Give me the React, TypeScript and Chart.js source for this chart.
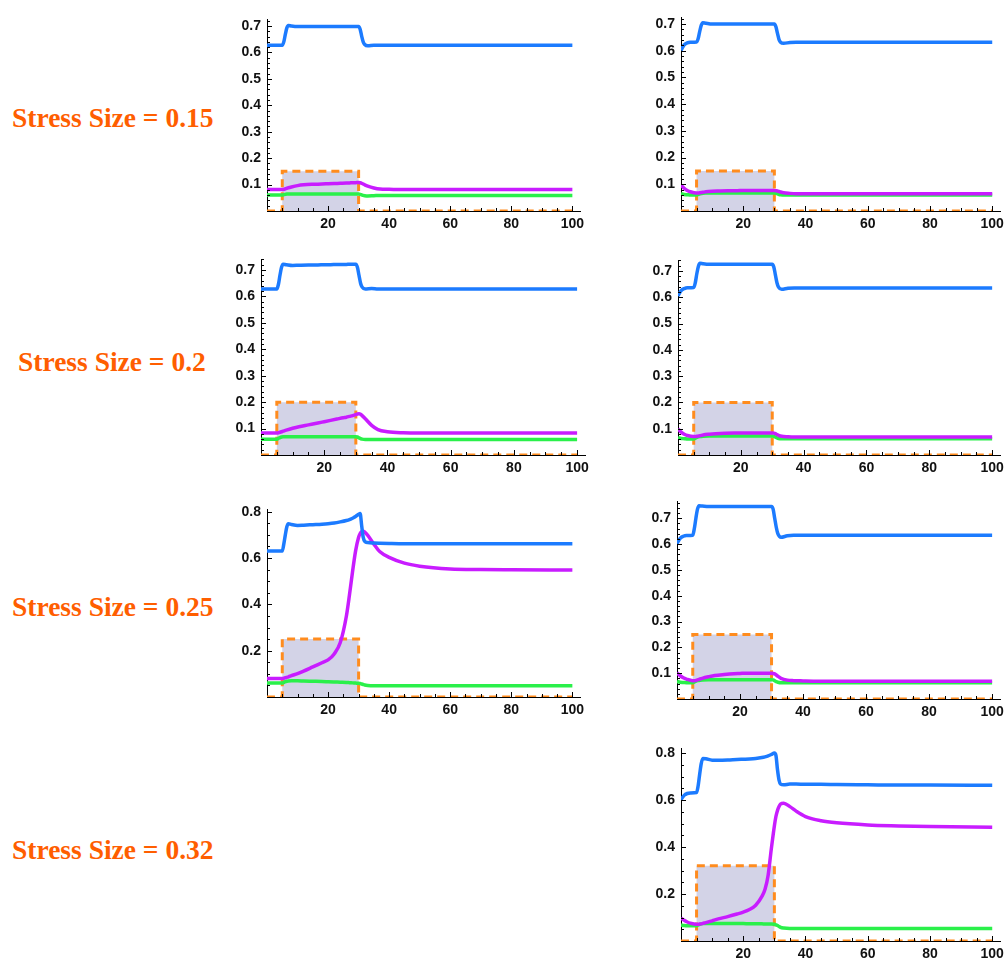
import React, { useEffect, useRef } from "react";
import { Chart, registerables } from "chart.js";

Chart.register(...registerables);

// ---------- DATA ----------
const T = [0, 1, 2, 3, 5, 5.5, 6, 6.5, 7, 8, 10, 12, 15, 18, 20, 22, 24, 26, 27, 28, 29, 30, 30.5, 31, 31.5, 32, 33, 35, 37, 40, 45, 50, 60, 70, 80, 100];

const stressT = [0, 5, 5, 30, 30, 100];
const stressOn = [0, 0, 1, 1, 0, 0];
const stressLevels = [0.15, 0.2, 0.25, 0.32];

const xTicks = [20, 40, 60, 80, 100];
const yTicksFine = [0.1, 0.2, 0.3, 0.4, 0.5, 0.6, 0.7];
const yTicksCoarse = [0.2, 0.4, 0.6, 0.8];

// left column, stress 0.15
const blueA15 = [0.627, 0.627, 0.627, 0.627, 0.627, 0.640, 0.668, 0.693, 0.702, 0.700, 0.698, 0.698, 0.698, 0.698, 0.698, 0.698, 0.698, 0.698, 0.698, 0.698, 0.698, 0.698, 0.688, 0.662, 0.640, 0.630, 0.625, 0.627, 0.627, 0.627, 0.627, 0.627, 0.627, 0.627, 0.627, 0.627];
const magentaA15 = [0.081, 0.081, 0.081, 0.081, 0.081, 0.082, 0.084, 0.086, 0.088, 0.091, 0.096, 0.099, 0.101, 0.102, 0.103, 0.104, 0.105, 0.106, 0.106, 0.107, 0.107, 0.108, 0.107, 0.105, 0.102, 0.099, 0.094, 0.087, 0.083, 0.082, 0.081, 0.081, 0.081, 0.081, 0.081, 0.081];
const greenA15 = [0.061, 0.061, 0.061, 0.061, 0.061, 0.062, 0.063, 0.064, 0.064, 0.064, 0.064, 0.064, 0.064, 0.064, 0.064, 0.064, 0.064, 0.064, 0.064, 0.064, 0.064, 0.064, 0.063, 0.061, 0.059, 0.058, 0.057, 0.058, 0.059, 0.059, 0.059, 0.059, 0.059, 0.059, 0.059, 0.059];

// right column, stress 0.15
const blueB15 = [0.602, 0.622, 0.630, 0.632, 0.633, 0.645, 0.672, 0.695, 0.705, 0.703, 0.700, 0.700, 0.700, 0.700, 0.700, 0.700, 0.700, 0.700, 0.700, 0.700, 0.700, 0.700, 0.690, 0.665, 0.642, 0.632, 0.628, 0.631, 0.632, 0.632, 0.632, 0.632, 0.632, 0.632, 0.632, 0.632];
const magentaB15 = [0.098, 0.085, 0.077, 0.072, 0.067, 0.067, 0.068, 0.069, 0.070, 0.072, 0.074, 0.075, 0.076, 0.076, 0.077, 0.077, 0.077, 0.077, 0.077, 0.077, 0.077, 0.077, 0.076, 0.075, 0.073, 0.071, 0.068, 0.066, 0.065, 0.065, 0.065, 0.065, 0.065, 0.065, 0.065, 0.065];
const greenB15 = [0.065, 0.062, 0.061, 0.060, 0.060, 0.062, 0.064, 0.065, 0.066, 0.067, 0.067, 0.067, 0.067, 0.067, 0.067, 0.067, 0.067, 0.067, 0.067, 0.067, 0.067, 0.067, 0.066, 0.064, 0.062, 0.061, 0.060, 0.060, 0.060, 0.060, 0.060, 0.060, 0.060, 0.060, 0.060, 0.060];

// left column, stress 0.2
const blueA20 = [0.628, 0.628, 0.628, 0.628, 0.628, 0.645, 0.680, 0.710, 0.722, 0.720, 0.717, 0.718, 0.719, 0.719, 0.720, 0.720, 0.721, 0.721, 0.721, 0.722, 0.722, 0.722, 0.710, 0.680, 0.650, 0.635, 0.628, 0.630, 0.628, 0.628, 0.628, 0.628, 0.628, 0.628, 0.628, 0.628];
const magentaA20 = [0.083, 0.083, 0.083, 0.083, 0.083, 0.084, 0.086, 0.088, 0.090, 0.094, 0.101, 0.107, 0.114, 0.121, 0.126, 0.131, 0.136, 0.141, 0.143, 0.146, 0.149, 0.153, 0.155, 0.156, 0.154, 0.149, 0.137, 0.112, 0.096, 0.088, 0.084, 0.083, 0.083, 0.083, 0.083, 0.083];
const greenA20 = [0.060, 0.060, 0.060, 0.060, 0.060, 0.063, 0.066, 0.068, 0.069, 0.069, 0.069, 0.069, 0.069, 0.069, 0.069, 0.069, 0.069, 0.069, 0.069, 0.069, 0.069, 0.069, 0.068, 0.065, 0.062, 0.060, 0.059, 0.059, 0.059, 0.059, 0.059, 0.059, 0.059, 0.059, 0.059, 0.059];

// right column, stress 0.2
const blueB20 = [0.605, 0.625, 0.633, 0.636, 0.637, 0.655, 0.690, 0.718, 0.729, 0.727, 0.725, 0.725, 0.725, 0.725, 0.725, 0.725, 0.725, 0.725, 0.725, 0.725, 0.725, 0.725, 0.715, 0.685, 0.655, 0.638, 0.630, 0.634, 0.635, 0.635, 0.635, 0.635, 0.635, 0.635, 0.635, 0.635];
const magentaB20 = [0.099, 0.087, 0.079, 0.074, 0.070, 0.070, 0.071, 0.072, 0.073, 0.076, 0.079, 0.081, 0.083, 0.084, 0.084, 0.084, 0.084, 0.084, 0.084, 0.084, 0.084, 0.084, 0.083, 0.081, 0.078, 0.075, 0.071, 0.069, 0.068, 0.068, 0.068, 0.068, 0.068, 0.068, 0.068, 0.068];
const greenB20 = [0.066, 0.063, 0.062, 0.061, 0.061, 0.064, 0.067, 0.069, 0.070, 0.071, 0.072, 0.072, 0.072, 0.072, 0.072, 0.072, 0.072, 0.072, 0.072, 0.072, 0.072, 0.072, 0.071, 0.068, 0.065, 0.063, 0.062, 0.062, 0.062, 0.062, 0.062, 0.062, 0.062, 0.062, 0.062, 0.062];

// left column, stress 0.25
const blueA25 = [0.630, 0.630, 0.630, 0.630, 0.630, 0.660, 0.700, 0.735, 0.748, 0.745, 0.741, 0.742, 0.744, 0.746, 0.748, 0.751, 0.756, 0.762, 0.766, 0.772, 0.779, 0.789, 0.792, 0.740, 0.690, 0.672, 0.667, 0.665, 0.664, 0.663, 0.662, 0.662, 0.662, 0.662, 0.662, 0.662];
const magentaA25 = [0.080, 0.080, 0.080, 0.080, 0.080, 0.081, 0.083, 0.085, 0.087, 0.092, 0.101, 0.112, 0.130, 0.148, 0.160, 0.186, 0.235, 0.350, 0.440, 0.540, 0.630, 0.690, 0.706, 0.714, 0.716, 0.712, 0.698, 0.660, 0.627, 0.603, 0.578, 0.565, 0.553, 0.550, 0.549, 0.548];
const greenA25 = [0.060, 0.060, 0.060, 0.060, 0.060, 0.063, 0.066, 0.068, 0.069, 0.070, 0.070, 0.069, 0.068, 0.067, 0.066, 0.065, 0.064, 0.063, 0.062, 0.061, 0.060, 0.059, 0.058, 0.056, 0.054, 0.052, 0.050, 0.049, 0.049, 0.049, 0.049, 0.049, 0.049, 0.049, 0.049, 0.049];

// right column, stress 0.25
const blueB25 = [0.602, 0.622, 0.630, 0.633, 0.634, 0.660, 0.700, 0.735, 0.748, 0.747, 0.745, 0.745, 0.745, 0.745, 0.745, 0.745, 0.745, 0.745, 0.745, 0.745, 0.745, 0.745, 0.735, 0.700, 0.665, 0.640, 0.626, 0.632, 0.634, 0.634, 0.634, 0.634, 0.634, 0.634, 0.634, 0.634];
const magentaB25 = [0.101, 0.090, 0.082, 0.077, 0.071, 0.071, 0.072, 0.074, 0.076, 0.080, 0.086, 0.091, 0.095, 0.098, 0.099, 0.100, 0.100, 0.100, 0.100, 0.100, 0.100, 0.100, 0.099, 0.097, 0.093, 0.088, 0.080, 0.073, 0.071, 0.070, 0.069, 0.069, 0.069, 0.069, 0.069, 0.069];
const greenB25 = [0.068, 0.065, 0.064, 0.063, 0.063, 0.066, 0.069, 0.071, 0.072, 0.074, 0.075, 0.075, 0.075, 0.075, 0.075, 0.075, 0.075, 0.075, 0.075, 0.075, 0.075, 0.075, 0.074, 0.071, 0.067, 0.065, 0.063, 0.063, 0.063, 0.063, 0.063, 0.063, 0.063, 0.063, 0.063, 0.063];

// right column, stress 0.32
const blueB32 = [0.602, 0.620, 0.628, 0.630, 0.632, 0.660, 0.710, 0.755, 0.777, 0.776, 0.770, 0.770, 0.771, 0.773, 0.774, 0.775, 0.777, 0.781, 0.784, 0.788, 0.794, 0.800, 0.790, 0.730, 0.685, 0.668, 0.665, 0.668, 0.668, 0.667, 0.667, 0.666, 0.665, 0.664, 0.664, 0.663];
const magentaB32 = [0.097, 0.088, 0.081, 0.076, 0.071, 0.071, 0.072, 0.073, 0.075, 0.078, 0.086, 0.094, 0.104, 0.115, 0.123, 0.134, 0.152, 0.190, 0.220, 0.280, 0.390, 0.490, 0.530, 0.556, 0.573, 0.583, 0.587, 0.572, 0.553, 0.530, 0.512, 0.503, 0.494, 0.490, 0.487, 0.484];
const greenB32 = [0.068, 0.066, 0.065, 0.065, 0.065, 0.068, 0.071, 0.073, 0.074, 0.075, 0.075, 0.074, 0.074, 0.074, 0.074, 0.073, 0.073, 0.073, 0.072, 0.072, 0.072, 0.071, 0.069, 0.066, 0.062, 0.058, 0.055, 0.053, 0.053, 0.053, 0.053, 0.053, 0.053, 0.053, 0.053, 0.053];

// ---------- STYLE / LAYOUT ----------
const BLUE = "#1C7BFF";
const MAGENTA = "#C81CFF";
const GREEN = "#2AF04A";
const ORANGE = "#FF8C1E";
const BOX_FILL = "#D3D3E7";
const LABEL_COLOR = "#FF5E00";

const X_MAX = 102.5;
const YW = 44;
const XH = 24;
const PT = 10;
const PR = 14;

type Panel = {
  area: [number, number, number, number];
  yMax: number;
  yTicks: number[];
  yMinor: number;
  yMajor: number;
  blue: number[];
  magenta: number[];
  green: number[];
  stress: number;
};

const PANELS: Panel[] = [
  { area: [267, 15, 580, 211], yMax: 0.725, yTicks: yTicksFine, yMinor: 0.02, yMajor: 0.1, blue: blueA15, magenta: magentaA15, green: greenA15, stress: stressLevels[0] },
  { area: [681, 13, 1000, 211], yMax: 0.725, yTicks: yTicksFine, yMinor: 0.02, yMajor: 0.1, blue: blueB15, magenta: magentaB15, green: greenB15, stress: stressLevels[0] },
  { area: [261, 255, 585, 455], yMax: 0.74, yTicks: yTicksFine, yMinor: 0.02, yMajor: 0.1, blue: blueA20, magenta: magentaA20, green: greenA20, stress: stressLevels[1] },
  { area: [678, 256, 1000, 455], yMax: 0.74, yTicks: yTicksFine, yMinor: 0.02, yMajor: 0.1, blue: blueB20, magenta: magentaB20, green: greenB20, stress: stressLevels[1] },
  { area: [267, 505, 580, 697], yMax: 0.81, yTicks: yTicksCoarse, yMinor: 0.05, yMajor: 0.2, blue: blueA25, magenta: magentaA25, green: greenA25, stress: stressLevels[2] },
  { area: [677, 497, 1000, 699], yMax: 0.765, yTicks: yTicksFine, yMinor: 0.02, yMajor: 0.1, blue: blueB25, magenta: magentaB25, green: greenB25, stress: stressLevels[2] },
  { area: [681, 744, 1000, 941], yMax: 0.82, yTicks: yTicksCoarse, yMinor: 0.05, yMajor: 0.2, blue: blueB32, magenta: magentaB32, green: greenB32, stress: stressLevels[3] },
];

const LABEL_POS = [
  { left: 12, top: 104 },
  { left: 18, top: 348 },
  { left: 12, top: 593 },
  { left: 12, top: 836 },
];

// inward-pointing major/minor ticks like Mathematica axes
const axisTicks = {
  id: "axisTicks",
  afterDatasetsDraw(chart: any, _args: any, opts: any) {
    const { ctx, chartArea, scales } = chart;
    const xs = scales.x;
    const ys = scales.y;
    ctx.save();
    ctx.strokeStyle = "#000";
    ctx.lineWidth = 1;
    ctx.beginPath();
    const nx = Math.floor(100 / opts.xMinor + 1e-6);
    for (let i = 1; i <= nx; i++) {
      const v = i * opts.xMinor;
      const major = Math.abs(v / opts.xMajor - Math.round(v / opts.xMajor)) < 1e-6;
      const px = Math.round(xs.getPixelForValue(v)) + 0.5;
      ctx.moveTo(px, chartArea.bottom);
      ctx.lineTo(px, chartArea.bottom - (major ? 5 : 3));
    }
    const ny = Math.floor(opts.yMax / opts.yMinor + 1e-6);
    for (let i = 1; i <= ny; i++) {
      const v = i * opts.yMinor;
      const major = Math.abs(v / opts.yMajor - Math.round(v / opts.yMajor)) < 1e-6;
      const py = Math.round(ys.getPixelForValue(v)) + 0.5;
      ctx.moveTo(chartArea.left, py);
      ctx.lineTo(chartArea.left + (major ? 5 : 3), py);
    }
    ctx.stroke();
    ctx.restore();
  },
};

const tickFont = { family: "'Liberation Sans', Arial, sans-serif", weight: "bold" as const, size: 14 };

function PanelChart({ p }: { p: Panel }) {
  const ref = useRef<HTMLCanvasElement>(null);
  const [l, t, r, b] = p.area;
  const w = r - l + YW + PR;
  const h = b - t + PT + XH;

  useEffect(() => {
    const series = (arr: number[]) => T.map((x, i) => ({ x, y: arr[i] }));
    const box = stressT.map((x, i) => ({ x, y: stressOn[i] * p.stress }));
    const line = (data: any, color: string) => ({
      data,
      borderColor: color,
      borderWidth: 3.5,
      pointRadius: 0,
      fill: false,
      cubicInterpolationMode: "monotone" as const,
    });
    const chart = new Chart(ref.current!, {
      type: "line",
      data: {
        datasets: [
          line(series(p.blue), BLUE),
          line(series(p.magenta), MAGENTA),
          line(series(p.green), GREEN),
          {
            data: box,
            borderColor: ORANGE,
            borderWidth: 3,
            borderDash: [8, 5],
            pointRadius: 0,
            tension: 0,
            fill: "origin",
            backgroundColor: BOX_FILL,
          },
        ],
      },
      options: {
        animation: false,
        responsive: false,
        maintainAspectRatio: false,
        events: [],
        layout: { padding: { left: 0, top: PT, right: PR, bottom: 0 } },
        plugins: {
          legend: { display: false },
          tooltip: { enabled: false },
          axisTicks: { xMinor: 5, xMajor: 20, yMinor: p.yMinor, yMajor: p.yMajor, yMax: p.yMax },
        } as any,
        scales: {
          x: {
            type: "linear",
            min: 0,
            max: X_MAX,
            afterBuildTicks: (s: any) => {
              s.ticks = xTicks.map((v) => ({ value: v }));
            },
            afterFit: (s: any) => {
              s.height = XH;
            },
            grid: { display: false, drawTicks: false },
            border: { display: true, color: "#000", width: 1 },
            ticks: {
              padding: 5,
              maxRotation: 0,
              autoSkip: false,
              color: "#111",
              font: tickFont,
              callback: (v: any) => String(v),
            },
          },
          y: {
            type: "linear",
            min: 0,
            max: p.yMax,
            afterBuildTicks: (s: any) => {
              s.ticks = p.yTicks.map((v) => ({ value: v }));
            },
            afterFit: (s: any) => {
              s.width = YW;
            },
            grid: { display: false, drawTicks: false },
            border: { display: true, color: "#000", width: 1 },
            ticks: {
              padding: 6,
              autoSkip: false,
              color: "#111",
              font: tickFont,
              callback: (v: any) => Number(v).toFixed(1),
            },
          },
        },
      },
      plugins: [axisTicks as any],
    });
    return () => chart.destroy();
  }, [p]);

  return (
    <canvas
      ref={ref}
      width={w}
      height={h}
      style={{ position: "absolute", left: l - YW, top: t - PT, width: w, height: h }}
    />
  );
}

export default function App() {
  return (
    <div
      style={{
        position: "absolute",
        left: 0,
        top: 0,
        width: 1004,
        height: 962,
        overflow: "hidden",
        background: "#fff",
      }}
    >
      {stressLevels.map((s, i) => (
        <div
          key={"lbl" + i}
          style={{
            position: "absolute",
            left: LABEL_POS[i].left,
            top: LABEL_POS[i].top,
            fontFamily: "'Liberation Serif', 'Times New Roman', serif",
            fontWeight: "bold",
            fontSize: 27.5,
            lineHeight: "27px",
            color: LABEL_COLOR,
            whiteSpace: "nowrap",
          }}
        >
          {`Stress Size = ${s}`}
        </div>
      ))}
      {PANELS.map((p, i) => (
        <PanelChart key={i} p={p} />
      ))}
    </div>
  );
}
